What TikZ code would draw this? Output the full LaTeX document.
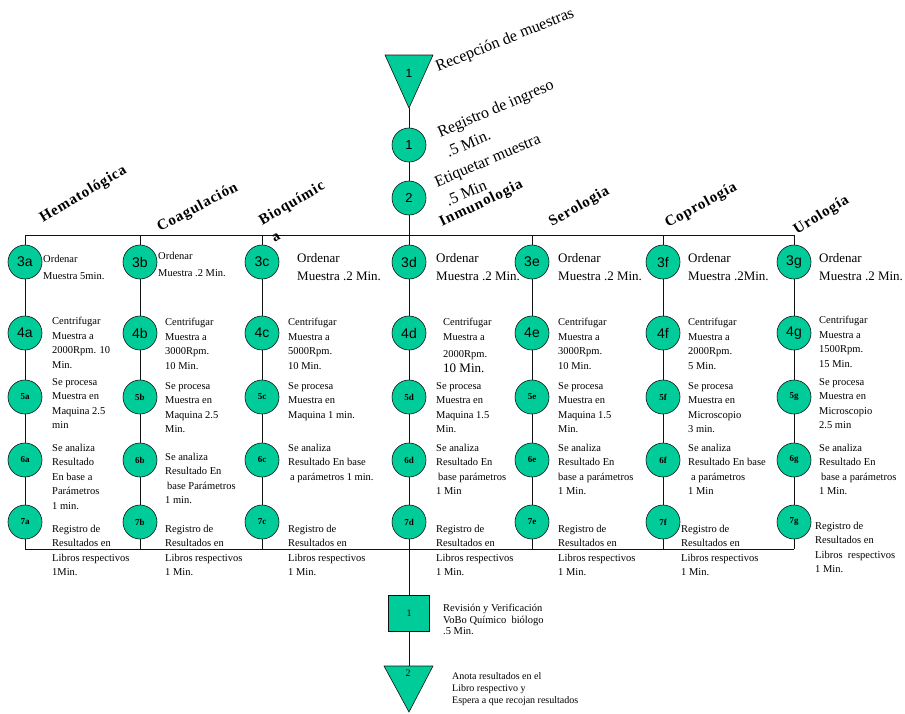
\documentclass[tikz,border=0pt]{standalone}
\usepackage{fontspec}
\setmainfont{Liberation Serif}
\newfontfamily\numfont{Liberation Sans}
\newfontfamily\headfont[LetterSpace=6]{Liberation Serif}
\definecolor{Op}{HTML}{00CC99}
\definecolor{Ln}{HTML}{111111}
\tikzset{
  opc/.style={circle, draw=Ln, fill=Op, line width=0.6pt, inner sep=0pt, minimum size=34pt},
  bigno/.style={font=\numfont\fontsize{14}{14}\selectfont},
  smallno/.style={font=\fontsize{9}{9}\selectfont\bfseries},
  insp/.style={rectangle, draw=Ln, fill=Op, line width=0.6pt, inner sep=0pt, minimum width=41pt, minimum height=36pt},
  tri/.style={draw=Ln, fill=Op, line width=0.6pt},
  txt/.style={anchor=north west, inner sep=0pt, align=left, font=\fontsize{10.5}{14.5}\selectfont},
  ord/.style={anchor=north west, inner sep=0pt, align=left, font=\fontsize{10.5}{17}\selectfont},
  big/.style={anchor=north west, inner sep=0pt, align=left, font=\fontsize{13}{18}\selectfont},
  head/.style={inner sep=0pt, align=left, font=\headfont\bfseries\fontsize{15}{21}\selectfont},
  toptxt/.style={inner sep=0pt, align=left, font=\fontsize{16}{22}\selectfont},
  flow/.style={draw=Ln, line width=0.8pt},
}

\begin{document}
\begin{tikzpicture}[x=1pt,y=-1pt]
  \useasboundingbox (0,0) rectangle (905,713);
  % entrada de muestras
  \filldraw[tri] (385,55) -- (433,55) -- (409,108) -- cycle;
  \node[font=\numfont\fontsize{12}{12}\selectfont] (rec) at (409,73) {1};
  \coordinate (rectip) at (409,108);
  \node[opc, font=\numfont\fontsize{13}{13}\selectfont] (reg) at (409,145) {1};
  \node[opc, font=\numfont\fontsize{13}{13}\selectfont] (eti) at (409,198) {2};
  \node[toptxt, anchor=base west, rotate=22] (trec) at (438,72) {Recepción de muestras};
  \node[toptxt, anchor=north west, rotate=23] (treg) at (435.7,126.9) {Registro de ingreso\\.5 Min.};
  \node[toptxt, anchor=north west, rotate=23] (teti) at (432.9,177.2) {Etiquetar muestra\\\hspace*{3pt}.5 Min};
  % areas
  \foreach \c/\x in {a/25,b/140,c/262,d/409,e/532,f/663,g/794}{
    \coordinate (top\c) at (\x,235);
    \coordinate (bot\c) at (\x,549);
    \node[opc, bigno] (s3\c) at (\x,262) {3\c};
    \node[opc, bigno] (s4\c) at (\x,333) {4\c};
    \node[opc, smallno] (s5\c) at (\x,397) {5\c};
    \node[opc, smallno] (s6\c) at (\x,460) {6\c};
    \node[opc, smallno] (s7\c) at (\x,522) {7\c};
    \draw[flow] (top\c) -- (s3\c) -- (s4\c) -- (s5\c) -- (s6\c) -- (s7\c) -- (bot\c);
  }
  \draw[flow] (topa) -- (topg);
  \draw[flow] (bota) -- (botg);
  \draw[flow] (rectip) -- (reg) -- (eti) -- (topd);
  \node[head, anchor=base west, rotate=31] (ha) at (43,223) {Hematológica};
  \node[head, anchor=base west, rotate=28] (hb) at (160,232) {Coagulación};
  \node[head, anchor=north west, rotate=30] (hc) at (256.8,215.9) {Bioquímic\\\hspace*{2pt}a};
  \node[head, anchor=base west, rotate=26] (hd) at (442,227) {Inmunologia};
  \node[head, anchor=base west, rotate=30] (he) at (552,227) {Serologia};
  \node[head, anchor=base west, rotate=29] (hf) at (668,228) {Coprología};
  \node[head, anchor=base west, rotate=32] (hg) at (797,235) {Urología};
  % columna a
  \node[ord] (t3a) at (43,255) {Ordenar\\Muestra 5min.};
  \node[txt] (t4a) at (52,317) {Centrifugar\\Muestra a\\2000Rpm. 10\\Min.};
  \node[txt] (t5a) at (52,378) {Se procesa\\Muestra en\\Maquina 2.5\\min};
  \node[txt] (t6a) at (52,444) {Se analiza\\Resultado\\En base a\\Parámetros\\1 min.};
  \node[txt] (t7a) at (52,525) {Registro de\\Resultados en\\Libros respectivos\\1Min.};
  % columna b
  \node[ord] (t3b) at (158,252) {Ordenar\\Muestra .2 Min.};
  \node[txt] (t4b) at (165,318) {Centrifugar\\Muestra a\\3000Rpm.\\10 Min.};
  \node[txt] (t5b) at (165,382) {Se procesa\\Muestra en\\Maquina 2.5\\Min.};
  \node[txt] (t6b) at (165,453) {Se analiza\\Resultado En\\\hspace*{2pt}base Parámetros\\1 min.};
  \node[txt] (t7b) at (165,525) {Registro de\\Resultados en\\Libros respectivos\\1 Min.};
  % columna c
  \node[big] (t3c) at (297,253) {Ordenar\\Muestra .2 Min.};
  \node[txt] (t4c) at (288,318) {Centrifugar\\Muestra a\\5000Rpm.\\10 Min.};
  \node[txt] (t5c) at (288,382) {Se procesa\\Muestra en\\Maquina 1 min.};
  \node[txt] (t6c) at (288,444) {Se analiza\\Resultado En base\\\hspace*{2pt}a parámetros 1 min.};
  \node[txt] (t7c) at (288,525) {Registro de\\Resultados en\\Libros respectivos\\1 Min.};
  % columna d
  \node[big] (t3d) at (436,253) {Ordenar\\Muestra .2 Min.};
  \node[txt] (t4d) at (443,318) {Centrifugar\\Muestra a\\[3pt]2000Rpm.\\{\fontsize{13}{14}\selectfont 10 Min.}};
  \node[txt] (t5d) at (436,382) {Se procesa\\Muestra en\\Maquina 1.5\\Min.};
  \node[txt] (t6d) at (436,444) {Se analiza\\Resultado En\\\hspace*{2pt}base parámetros\\1 Min};
  \node[txt] (t7d) at (436,525) {Registro de\\Resultados en\\Libros respectivos\\1 Min.};
  % columna e
  \node[big] (t3e) at (558,253) {Ordenar\\Muestra .2 Min.};
  \node[txt] (t4e) at (558,318) {Centrifugar\\Muestra a\\3000Rpm.\\10 Min.};
  \node[txt] (t5e) at (558,382) {Se procesa\\Muestra en\\Maquina 1.5\\Min.};
  \node[txt] (t6e) at (558,444) {Se analiza\\Resultado En\\base a parámetros\\1 Min.};
  \node[txt] (t7e) at (558,525) {Registro de\\Resultados en\\Libros respectivos\\1 Min.};
  % columna f
  \node[big] (t3f) at (688,253) {Ordenar\\Muestra .2Min.};
  \node[txt] (t4f) at (688,318) {Centrifugar\\Muestra a\\2000Rpm.\\5 Min.};
  \node[txt] (t5f) at (688,382) {Se procesa\\Muestra en\\Microscopio\\3 min.};
  \node[txt] (t6f) at (688,444) {Se analiza\\Resultado En base\\\hspace*{3pt}a parámetros\\1 Min};
  \node[txt] (t7f) at (681,525) {Registro de\\Resultados en\\Libros respectivos\\1 Min.};
  % columna g
  \node[big] (t3g) at (819,253) {Ordenar\\Muestra .2 Min.};
  \node[txt] (t4g) at (819,316) {Centrifugar\\Muestra a\\1500Rpm.\\15 Min.};
  \node[txt] (t5g) at (819,378) {Se procesa\\Muestra en\\Microscopio\\2.5 min};
  \node[txt] (t6g) at (819,444) {Se analiza\\Resultado En\\\hspace*{2pt}base a parámetros\\1 Min.};
  \node[txt] (t7g) at (815,522) {Registro de\\Resultados en\\Libros\ \ respectivos\\1 Min.};
  % salida
  \node[insp, font=\fontsize{10}{10}\selectfont] (rev) at (409,613) {1};
  \filldraw[tri] (384,666) -- (433,666) -- (409,712) -- cycle;
  \coordinate (anotop) at (409,666);
  \node[font=\fontsize{10}{10}\selectfont] (ano) at (408,673) {2};
  \draw[flow] (botd) -- (rev) -- (anotop);
  \node[txt, font=\fontsize{10.5}{11.5}\selectfont] (trev) at (443,604) {Revisión y Verificación\\VoBo Químico\ \ biólogo\\.5 Min.};
  \node[txt, font=\fontsize{10}{12}\selectfont] (tano) at (452,672) {Anota resultados en el\\Libro respectivo y\\Espera a que recojan resultados};
\end{tikzpicture}
\end{document}
